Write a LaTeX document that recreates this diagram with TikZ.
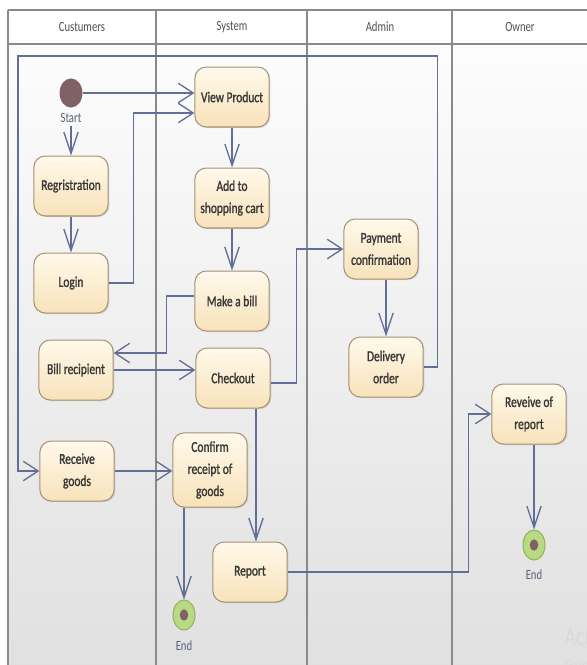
\documentclass[tikz,border=0pt]{standalone}
\usepackage{fontspec}
\setmainfont{Carlito}[FakeStretch=0.76]
\newfontfamily\actfont{Carlito}[FakeStretch=0.76, FakeBold=1.3]
\usetikzlibrary{arrows.meta,shapes.geometric,shadows,calc}

\definecolor{lanegray}{RGB}{138,138,138}
\definecolor{flowblue}{RGB}{98,110,150}
\definecolor{actborder}{RGB}{165,145,115}
\definecolor{acttop}{RGB}{255,249,235}
\definecolor{actbottom}{RGB}{248,226,186}
\definecolor{startfill}{RGB}{128,98,102}
\definecolor{endring}{RGB}{185,218,130}
\definecolor{endborder}{RGB}{140,180,90}
\definecolor{textgray}{RGB}{55,55,55}
\definecolor{headgray}{RGB}{80,80,80}
\definecolor{labelgray}{RGB}{90,96,120}

\tikzset{
	activity/.style={rectangle, rounded corners=0.4cm, draw=actborder,
		line width=1pt, top color=acttop, bottom color=actbottom,
		minimum width=2.6cm, minimum height=2.1cm, inner sep=2pt,
		align=center, text=textgray, font=\actfont\fontsize{15}{22}\selectfont,
		drop shadow={shadow xshift=1.2pt, shadow yshift=-1.2pt, opacity=0.25}},
	startnode/.style={ellipse, fill=startfill, minimum width=0.8cm,
		minimum height=1.02cm, inner sep=0pt},
	endnode/.style={ellipse, fill=endring, draw=endborder, line width=1pt,
		minimum width=0.77cm, minimum height=1.05cm, inner sep=0pt,
		path picture={\fill[startfill] (path picture bounding box.center)
			ellipse (0.15cm and 0.2cm);}},
	lbl/.style={text=labelgray, font=\fontsize{14}{16}\selectfont},
	head/.style={text=headgray, font=\fontsize{14}{16}\selectfont},
	lane/.style={draw=lanegray, line width=2.2pt},
	flow/.style={draw=flowblue, line width=1.3pt,
		-{Straight Barb[length=0.52cm, width=0.68cm, line width=1.3pt]}},
	flowv/.style={draw=flowblue, line width=1.3pt,
		-{Straight Barb[length=0.75cm, width=0.5cm, line width=1.3pt]}}
}

\begin{document}
\begin{tikzpicture}[x=0.035cm, y=-0.035cm]
	\useasboundingbox (0,0) rectangle (587,665);
	% Hintergrund
	\shade[top color=white!98!gray, bottom color=gray!24] (8,44) rectangle (587,665);
	\fill[white] (8,10) rectangle (587,44);

	% Bahnen
	\foreach \x in {8,156,307,452}
		\draw[lane] (\x,10) -- (\x,665);
	\draw[lane] (8,10) -- (587,10);
	\draw[lane] (8,44) -- (587,44);
	% Bahnnamen
	\foreach \x/\name in {82/Custumers, 232/System, 380/Admin, 520/Owner}
		\node[head] (lane-\x) at (\x,27) {\name};

	% Knoten
	\node[startnode] (start) at (71,93) {};
	\node[lbl] (startlbl) at (71,118) {Start};
	\node[activity] (view) at (232,97) {View Product};
	\node[activity] (cart) at (232,198) {Add to\\shopping cart};
	\node[activity] (reg) at (71,186) {Regristration};
	\node[activity] (login) at (71,283) {Login};
	\node[activity] (bill) at (232,301) {Make a bill};
	\node[activity] (billrec) at (76,370) {Bill recipient};
	\node[activity] (checkout) at (233,378) {Checkout};
	\node[activity] (pay) at (381,249) {Payment\\confirmation};
	\node[activity] (deliv) at (386,367) {Delivery\\order};
	\node[activity] (revrep) at (529,414) {Reveive of\\report};
	\node[activity] (recv) at (77,471) {Receive\\goods};
	\node[activity, minimum height=2.6cm] (confirm) at (210,470)
		{Confirm\\receipt of\\goods};
	\node[activity] (report) at (250,572) {Report};
	\node[endnode] (end1) at (184,615) {};
	\node[lbl] (end1lbl) at (184,646) {End};
	\node[endnode] (end2) at (534,545) {};
	\node[lbl] (end2lbl) at (534,575) {End};

	% Wasserzeichen
	\node[text=gray!30, font=\fontsize{26}{28}\selectfont, anchor=base west]
		(wm) at (561,645) {Activate Windows};
	\node[text=gray!30, font=\fontsize{13}{14}\selectfont, anchor=base west]
		(wm2) at (562,668) {Go to Settings to activate Windows.};

	% Pfeile
	\draw[flow] (start) -- (start -| view.west);
	\draw[flowv] (startlbl) -- (reg);
	\draw[flowv] (reg) -- (login);
	\draw[flow] (login.east) -- ++(25,0) |- ($(view.west)+(0,16)$);
	\draw[flowv] (view) -- (cart);
	\draw[flowv] (cart) -- (bill);
	\draw[flow] ($(bill.west)+(0,-5)$) -- ++(-28,0) |- ($(billrec.east)+(0,-17)$);
	\draw[flow] (billrec.east) -- (billrec.east -| checkout.west);
	\draw[flow] ($(checkout.east)+(0,5)$) -- ++(26,0) |- (pay.west);
	\draw[flowv] (deliv.north |- pay.south) -- (deliv.north);
	\draw[flow] (deliv.east) -- ++(14,0) |- (18,56) |- (recv.west);
	\draw[flow] (recv.east) -- (recv.east -| confirm.west);
	\draw[flowv] (end1 |- confirm.south) -- (end1);
	\coordinate (co) at ($(checkout.south)+(23,0)$);
	\draw[flowv] (co) -- (co |- report.north);
	\draw[flow] (report.east) -| ($(revrep.west)+(-23,0)$) -- (revrep.west);
	\draw[flowv] (end2 |- revrep.south) -- (end2);
\end{tikzpicture}
\end{document}
